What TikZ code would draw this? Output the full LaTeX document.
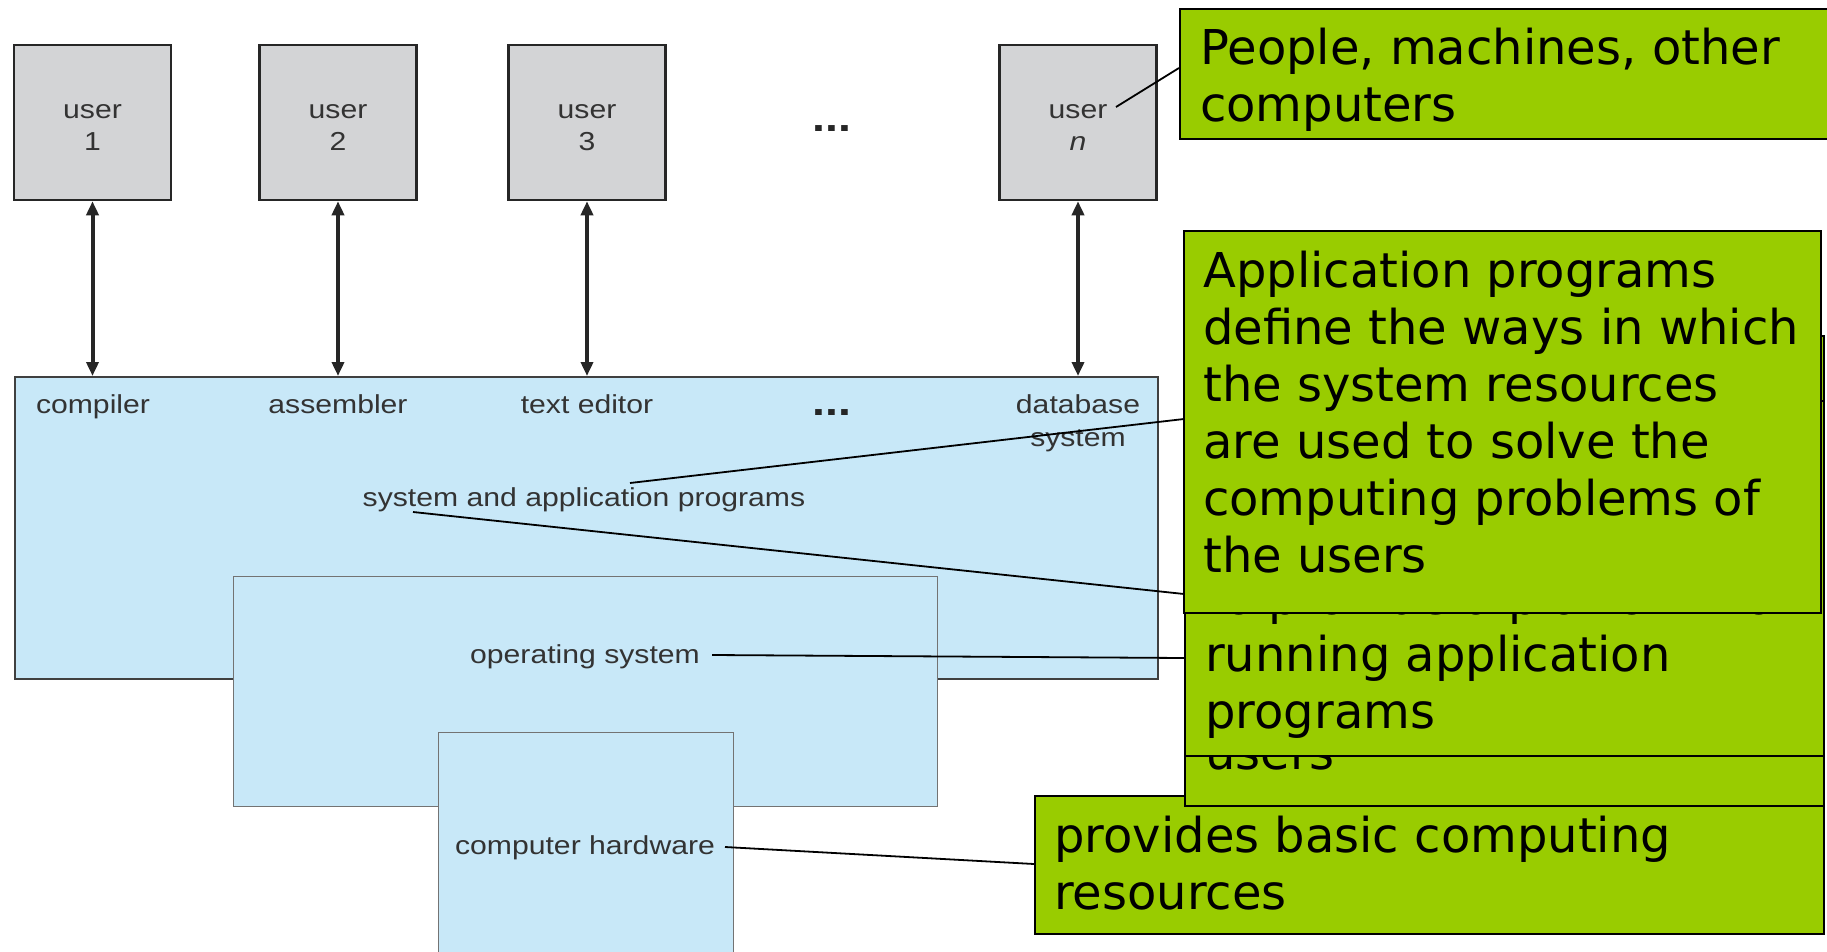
\documentclass[tikz,border=0pt]{standalone}
\usepackage{fontspec}
\setmainfont{DejaVu Sans}
\newfontfamily\figfont[FakeStretch=1.16]{Liberation Sans}
\usetikzlibrary{arrows.meta}
\definecolor{usergray}{HTML}{D3D4D6}
\definecolor{layerblue}{HTML}{C8E8F8}
\definecolor{notegreen}{HTML}{99CC00}
\definecolor{figtext}{HTML}{333333}
\begin{document}
\begin{tikzpicture}[x=1pt,y=-1pt,
  userbox/.style={draw=black!85, line width=2.5pt, fill=usergray, minimum width=157pt, minimum height=155pt,
    inner sep=0pt, align=center, text=figtext, font=\figfont\fontsize{26}{32}\selectfont},
  layer/.style={draw=black!75, line width=2pt, fill=layerblue, anchor=north west, inner sep=0pt},
  layerthin/.style={draw=black!55, line width=1.2pt, fill=layerblue, anchor=north west, inner sep=0pt},
  lbl/.style={anchor=base, inner sep=0pt, text=figtext, font=\figfont\fontsize{26}{33}\selectfont},
  dotsl/.style={anchor=base, inner sep=0pt, text=black!85, font=\figfont\bfseries\fontsize{40}{40}\selectfont},
  biarrow/.style={{Triangle[length=14pt,width=12pt]}-{Triangle[length=14pt,width=12pt]}, line width=4pt, draw=black!85},
  leader/.style={line width=1.8pt, draw=black},
  note/.style={draw=black, line width=1.8pt, fill=notegreen, anchor=north west, inner sep=0pt},
  gtext/.style={anchor=north west, inner sep=0pt, align=left, font=\fontsize{48}{57}\selectfont}
]
\useasboundingbox (0,0) rectangle (1827,952);
\fill[white] (0,0) rectangle (1827,952);

% user boxes
\node[userbox] (u1) at (92.5,122.5) {\rule{0pt}{24pt}user\\1};
\node[userbox] (u2) at (338,122.5) {\rule{0pt}{24pt}user\\2};
\node[userbox] (u3) at (587,122.5) {\rule{0pt}{24pt}user\\3};
\node[userbox] (un) at (1078,122.5) {\rule{0pt}{24pt}user\\\textit{n}};
\node[dotsl] (udots) at (832,132) {...};

% layers
\node[layer, minimum width=1143pt, minimum height=302pt] (apps) at (14,376) {};
\node[layerthin, minimum width=704pt, minimum height=230pt] (os) at (233,576) {};
\node[layerthin, minimum width=295pt, minimum height=240pt] (hw) at (438,732) {};

% arrows
\draw[biarrow] (u1.south) -- (u1.south |- apps.north);
\draw[biarrow] (u2.south) -- (u2.south |- apps.north);
\draw[biarrow] (u3.south) -- (u3.south |- apps.north);
\draw[biarrow] (un.south) -- (un.south |- apps.north);

% labels
\node[lbl] (comp) at (93,413) {compiler};
\node[lbl] (asm) at (338,413) {assembler};
\node[lbl] (ted) at (587,413) {text editor};
\node[dotsl] (bdots) at (832,415) {...};
\node[lbl, anchor=north, align=center] (db) at (1078,393) {\rule{0pt}{20pt}database\\system};
\node[lbl] (sap) at (584,506) {system and application programs};
\node[lbl] (ostxt) at (585,663) {operating system};
\node[lbl] (hwtxt) at (585,854) {computer hardware};

% leader end points
\coordinate (sapUp) at (630,483);
\coordinate (sapDn) at (413,512);
\coordinate (osEnd) at (712,655);
\coordinate (hwEnd) at (725,847);
\coordinate (unEnd) at (1116,107);
\coordinate (appIn) at (1184,419);
\coordinate (usrIn) at (1184,594);
\coordinate (midIn) at (1184,658);
\coordinate (provIn) at (1034,864);
\coordinate (pplIn) at (1179,68);

\draw[leader] (sapUp) -- (appIn);
\draw[leader] (sapDn) -- (usrIn);
\draw[leader] (osEnd) -- (midIn);
\draw[leader] (hwEnd) -- (provIn);
\draw[leader] (unEnd) -- (pplIn);

% green notes
\node[note, minimum width=656pt, minimum height=130pt] (ppl) at (1179,8) {};
\node[gtext] (pplTxt) at (1200,64-45) {\rule{0pt}{45pt}People, machines, other\\computers};

\node[note, minimum width=789pt, minimum height=138pt] (prov) at (1034,795) {};
\node[gtext] (provTxt) at (1054,852-45) {\rule{0pt}{45pt}provides basic computing\\resources};

\node[note, minimum width=639pt, minimum height=470pt] (usr) at (1184,335) {};
\node[gtext] (usrTxt) at (1205,769-45) {\rule{0pt}{45pt}users};

\node[note, minimum width=639pt, minimum height=355pt] (mid) at (1184,400) {};
\node[gtext] (midTxt) at (1205,614-45) {\rule{0pt}{45pt}to provide a platform for\\running application\\programs};

\node[note, minimum width=637pt, minimum height=382pt] (app) at (1183,230) {};
\node[gtext] (appTxt) at (1203,287-45) {\rule{0pt}{45pt}Application programs\\define the ways in which\\the system resources\\are used to solve the\\computing problems of\\the users};
\end{tikzpicture}
\end{document}
